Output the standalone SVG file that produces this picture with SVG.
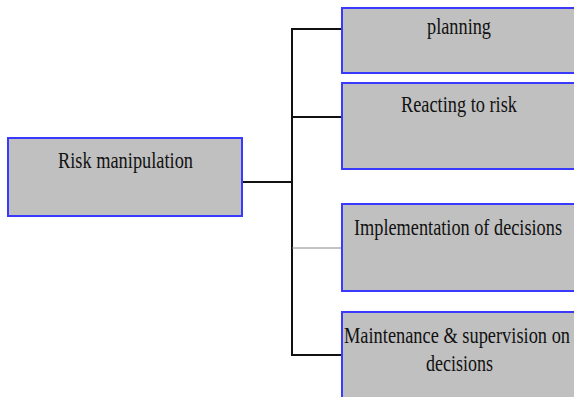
<svg xmlns="http://www.w3.org/2000/svg" width="574" height="397" viewBox="0 0 574 397">
<style>
.box{fill:#c0c0c0;stroke:#3a3aff;stroke-width:2}
.t{font-family:"Liberation Serif","Times New Roman",serif;font-size:23px;fill:#111}
.c{stroke:#111;stroke-width:2;fill:none}
</style>
<rect width="574" height="397" fill="#ffffff"/>
<g id="connectors">
<line class="c" x1="292" y1="29" x2="292" y2="355"/>
<line class="c" x1="242" y1="182" x2="292" y2="182"/>
<line class="c" x1="291" y1="29" x2="343" y2="29"/>
<line class="c" x1="291" y1="117" x2="343" y2="117"/>
<line x1="292" y1="248" x2="343" y2="248" stroke="#888" stroke-width="1"/>
<line class="c" x1="291" y1="355" x2="343" y2="355"/>
</g>
<g id="risk-manipulation">
<rect class="box" x="8" y="138" width="234" height="78"/>
<text class="t" x="58" y="168" textLength="135" lengthAdjust="spacingAndGlyphs">Risk manipulation</text>
</g>
<g id="planning">
<rect class="box" x="342" y="8" width="250" height="65"/>
<text class="t" x="427" y="34" textLength="64" lengthAdjust="spacingAndGlyphs">planning</text>
</g>
<g id="reacting">
<rect class="box" x="342" y="83" width="250" height="86"/>
<text class="t" x="401" y="112" textLength="116" lengthAdjust="spacingAndGlyphs">Reacting to risk</text>
</g>
<g id="implementation">
<rect class="box" x="342" y="204" width="250" height="87"/>
<text class="t" x="354" y="235" textLength="208" lengthAdjust="spacingAndGlyphs">Implementation of decisions</text>
</g>
<g id="maintenance">
<rect class="box" x="342" y="312" width="250" height="100"/>
<text class="t" x="344" y="343" textLength="226" lengthAdjust="spacingAndGlyphs">Maintenance &amp; supervision on</text>
<text class="t" x="426" y="371" textLength="67" lengthAdjust="spacingAndGlyphs">decisions</text>
</g>
</svg>
